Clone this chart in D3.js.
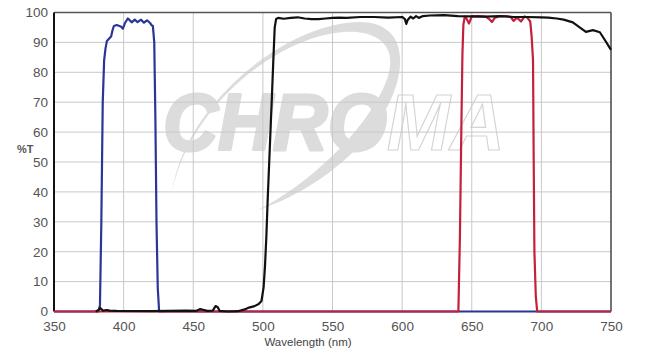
<!DOCTYPE html>
<html>
<head>
<meta charset="utf-8">
<script src="https://cdn.jsdelivr.net/npm/d3@7"></script>
<style>
  body { margin: 0; background: #fff; }
  text { font-family: "Liberation Sans", Arial, sans-serif; }
</style>
</head>
<body>
<svg id="chart"></svg>
<script>
var width = 652;
var height = 354;
var margin = { top: 12.5, right: 41, bottom: 42.5, left: 54 };

// tick values
const xTicks = [350, 400, 450, 500, 550, 600, 650, 700, 750];
const yTicks = [0, 10, 20, 30, 40, 50, 60, 70, 80, 90, 100];

// excitation filter (blue)
const blueWl = [350, 382, 383, 384, 385, 386, 387, 388, 390, 391, 392, 393, 395, 398, 399.5, 401, 403, 404, 405.8, 408, 410, 412.5, 414.6, 416.8, 419, 420, 421, 422, 422.8, 423.6, 424.5, 425.5, 750];
const blueT  = [0, 0, 2, 30, 70, 84, 88, 90.5, 91.5, 92, 94, 95.5, 95.8, 95.3, 94.6, 96.5, 98, 97.6, 96.7, 97.6, 96.8, 97.6, 96.6, 97.4, 96.5, 95.8, 95.5, 90, 65, 30, 8, 0, 0];

// dichroic (black)
const blackWl = [380, 382, 383, 384, 385, 388, 390, 395, 420, 445, 452, 455, 457, 460, 464, 466, 467.5, 469, 475, 482, 487, 490, 494, 497, 499, 500.5, 501.5, 502.5, 503.5, 505, 506.5, 507.5, 508.5, 509.5, 511, 515, 520, 525, 530, 535, 540, 545, 550, 555, 560, 570, 580, 590, 600, 602, 603, 604, 606, 608, 610, 612, 615, 620, 630, 640, 650, 660, 670, 680, 690, 700, 705, 711, 716, 722.6, 727, 732, 737, 742, 745.6, 748, 750];
const blackT  = [0, 0.5, 1.2, 0.8, 0.3, 0.5, 0.3, 0.2, 0.1, 0.3, 0.2, 0.8, 0.6, 0.2, 0.3, 1.8, 1.5, 0.2, 0, 0.1, 0.7, 1.3, 1.8, 2.5, 3.5, 8, 15, 25, 38, 55, 72, 84, 95, 97.8, 98.2, 97.9, 98.2, 98.4, 98, 97.8, 97.8, 98, 98.2, 98.3, 98.2, 98.5, 98.5, 98.3, 98.5, 97.8, 96.2, 97.5, 98.6, 98, 98.8, 98.2, 98.8, 99, 99.1, 98.8, 98.7, 98.6, 98.8, 98.5, 98.5, 98.4, 98.3, 98, 97.6, 96.7, 95.2, 93.5, 94.1, 93.4, 90.8, 89, 87.5];

// emission filter (red)
const redWl = [350, 640.4, 641.5, 642.5, 643.3, 644, 645, 646, 648, 650, 655, 660, 662.5, 664.5, 666.5, 670, 675, 678, 680, 682.5, 685.4, 688, 690, 692, 693, 694, 694.5, 695, 696, 697, 750];
const redT  = [0, 0, 25, 60, 86, 96, 98.6, 98.2, 96.3, 98.7, 98.8, 98.6, 97.8, 96.8, 98.2, 98.8, 98.8, 98.5, 97.2, 98.3, 97, 98.7, 98.2, 97, 92, 84, 50, 20, 5, 0, 0];

const series = [
  { name: "excitation", wl: blueWl, t: blueT, color: "#2c3596" },
  { name: "emission", wl: redWl, t: redT, color: "#c1213b" },
  { name: "dichroic", wl: blackWl, t: blackT, color: "#111111" }
];

const svg = d3.select("#chart")
  .attr("width", width)
  .attr("height", height);

const x = d3.scaleLinear()
  .domain([350, 750])
  .range([margin.left, width - margin.right]);

const y = d3.scaleLinear()
  .domain([0, 100])
  .range([height - margin.bottom, margin.top]);

// watermark goes under the grid
const wm = svg.append("g").attr("fill", "#dcdcdc");

wm.append("path")
  .attr("d", "M172,192 C186,100 290,22 360,22 C412,22 410,80 374,128 C344,168 300,196 258,210 " +
             "C306,186 366,132 386,82 C400,46 378,30 344,32 C280,36 190,104 172,192 Z");

const wmText = wm.append("text")
  .attr("x", 163)
  .attr("y", 150)
  .attr("font-size", 80)
  .attr("font-weight", "bold")
  .attr("font-style", "italic")
  .attr("textLength", 342)
  .attr("lengthAdjust", "spacingAndGlyphs");
wmText.append("tspan")
  .attr("stroke", "#dcdcdc")
  .attr("stroke-width", 3)
  .attr("stroke-linejoin", "round")
  .text("CHRO");
wmText.append("tspan")
  .attr("fill", "none")
  .attr("stroke", "#d4d4d4")
  .attr("stroke-width", 1.2)
  .text("MA");

// grid
svg.append("g")
  .selectAll("line.vgrid")
  .data(xTicks.slice(1, -1))
  .join("line")
  .attr("x1", d => x(d)).attr("x2", d => x(d))
  .attr("y1", y(100)).attr("y2", y(0))
  .attr("stroke", "#c9c9c9")
  .attr("stroke-width", 1);

svg.append("g")
  .selectAll("line.hgrid")
  .data(yTicks.slice(1, -1))
  .join("line")
  .attr("x1", x(350)).attr("x2", x(750))
  .attr("y1", d => y(d)).attr("y2", d => y(d))
  .attr("stroke", "#c9c9c9")
  .attr("stroke-width", 1);

// frame
svg.append("line")
  .attr("x1", x(350)).attr("x2", x(750))
  .attr("y1", y(100)).attr("y2", y(100))
  .attr("stroke", "#555").attr("stroke-width", 1.5);
svg.append("line")
  .attr("x1", x(750)).attr("x2", x(750))
  .attr("y1", y(100)).attr("y2", y(0))
  .attr("stroke", "#444").attr("stroke-width", 1.5);
svg.append("line")
  .attr("x1", x(350)).attr("x2", x(350))
  .attr("y1", y(100)).attr("y2", y(0))
  .attr("stroke", "#111").attr("stroke-width", 2);

// axes, drawn with d3 axes and then stripped of their lines
const xAxis = svg.append("g")
  .attr("transform", `translate(0,${y(0)})`)
  .call(d3.axisBottom(x).tickValues(xTicks).tickSize(0).tickPadding(10));
const yAxis = svg.append("g")
  .attr("transform", `translate(${x(350) - 5},0)`)
  .call(d3.axisLeft(y).tickValues(yTicks).tickSize(0).tickPadding(1));

[xAxis, yAxis].forEach(g => {
  g.select(".domain").remove();
  g.selectAll("text")
    .attr("fill", "#555")
    .attr("font-size", 13.5)
    .attr("font-family", "Liberation Sans, Arial, sans-serif");
});

svg.append("text")
  .attr("x", 308)
  .attr("y", 346)
  .attr("text-anchor", "middle")
  .attr("font-size", 11.5)
  .attr("fill", "#444")
  .text("Wavelength (nm)");

svg.append("text")
  .attr("x", 17)
  .attr("y", 153)
  .attr("font-size", 11)
  .attr("font-weight", "bold")
  .attr("fill", "#555")
  .text("%T");

// curves
const line = d3.line()
  .x(d => x(d[0]))
  .y(d => y(d[1]));

svg.append("g")
  .selectAll("path")
  .data(series)
  .join("path")
  .attr("d", s => line(s.wl.map((w, i) => [w, s.t[i]])))
  .attr("fill", "none")
  .attr("stroke", s => s.color)
  .attr("stroke-width", 2.2)
  .attr("stroke-linejoin", "round");
</script>
</body>
</html>
